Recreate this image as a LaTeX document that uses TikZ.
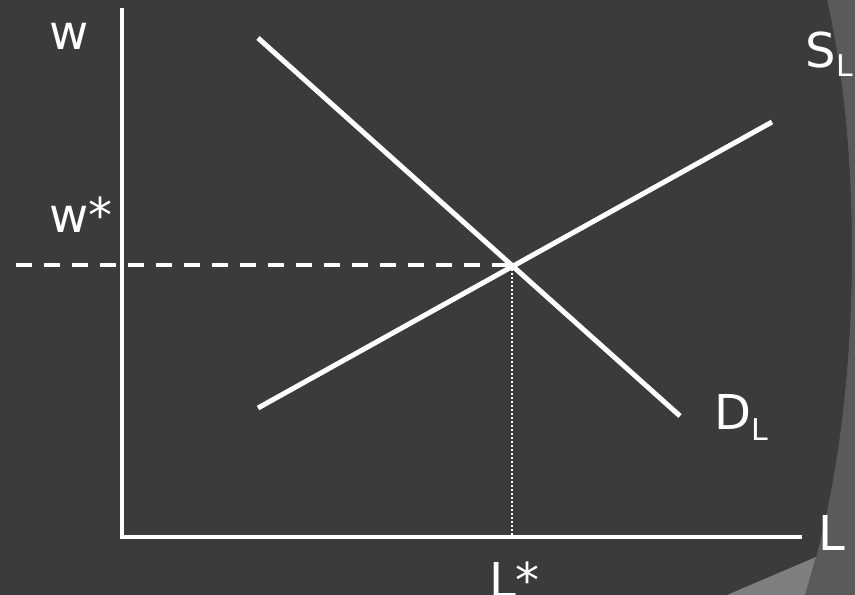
\documentclass[tikz,border=0pt]{standalone}
\usepackage{fontspec}
\setmainfont{DejaVu Sans}
\definecolor{bgdark}{HTML}{3B3B3B}
\definecolor{bgmid}{HTML}{5A5A5A}
\definecolor{bglight}{HTML}{7F7F7F}
\begin{document}
\begin{tikzpicture}[x=1pt,y=-1pt,
  curve/.style={white,line width=5pt},
  axis/.style={white,line width=4pt},
  lbl/.style={text=white,inner sep=0pt,anchor=base west,font=\fontsize{48}{54}\selectfont},
  sub/.style={text=white,inner sep=0pt,anchor=base west,font=\fontsize{30}{36}\selectfont}]
\useasboundingbox (0,0) rectangle (855,595);
\fill[bgdark] (0,0) rectangle (855,595);
\fill[bgmid] (827,0) .. controls (862,150) and (865,410) .. (805,595) -- (855,595) -- (855,0) -- cycle;
\fill[bglight] (727,595) -- (816,557) -- (805,595) -- cycle;
% coordinates
\coordinate (ytop) at (122,8);
\coordinate (orig) at (122,537);
\coordinate (xend) at (802,537);
\coordinate (dA) at (258,38);
\coordinate (dB) at (680,416);
\coordinate (sA) at (258,408);
\coordinate (sB) at (772,122);
\coordinate (eq) at (512,265);
\coordinate (dashstart) at (16,265);
\coordinate (eqx) at (512,537);
% axes
\draw[axis] (ytop) -- (orig) -- (xend);
% curves
\draw[curve] (dA) -- (dB);
\draw[curve] (sA) -- (sB);
% guides
\draw[white,line width=3.5pt,dash pattern=on 16pt off 12pt] (dashstart) -- (eq);
\draw[white,line width=1.2pt,dash pattern=on 2pt off 2pt] (eq) -- (eqx);
% labels
\node[lbl] (w) at (49,49) {w};
\node[lbl] (wstar) at (49,232) {w*};
\node[lbl] (S) at (805,67) {S};
\node[sub] (SL) at (S.base east) [yshift=-9pt] {L};
\node[lbl] (D) at (714,429) {D};
\node[sub] (DL) at (D.base east) [yshift=-11pt] {L};
\node[lbl] (L) at (818,550) {L};
\node[lbl] (Lstar) at (489,597) {L*};
\end{tikzpicture}
\end{document}
